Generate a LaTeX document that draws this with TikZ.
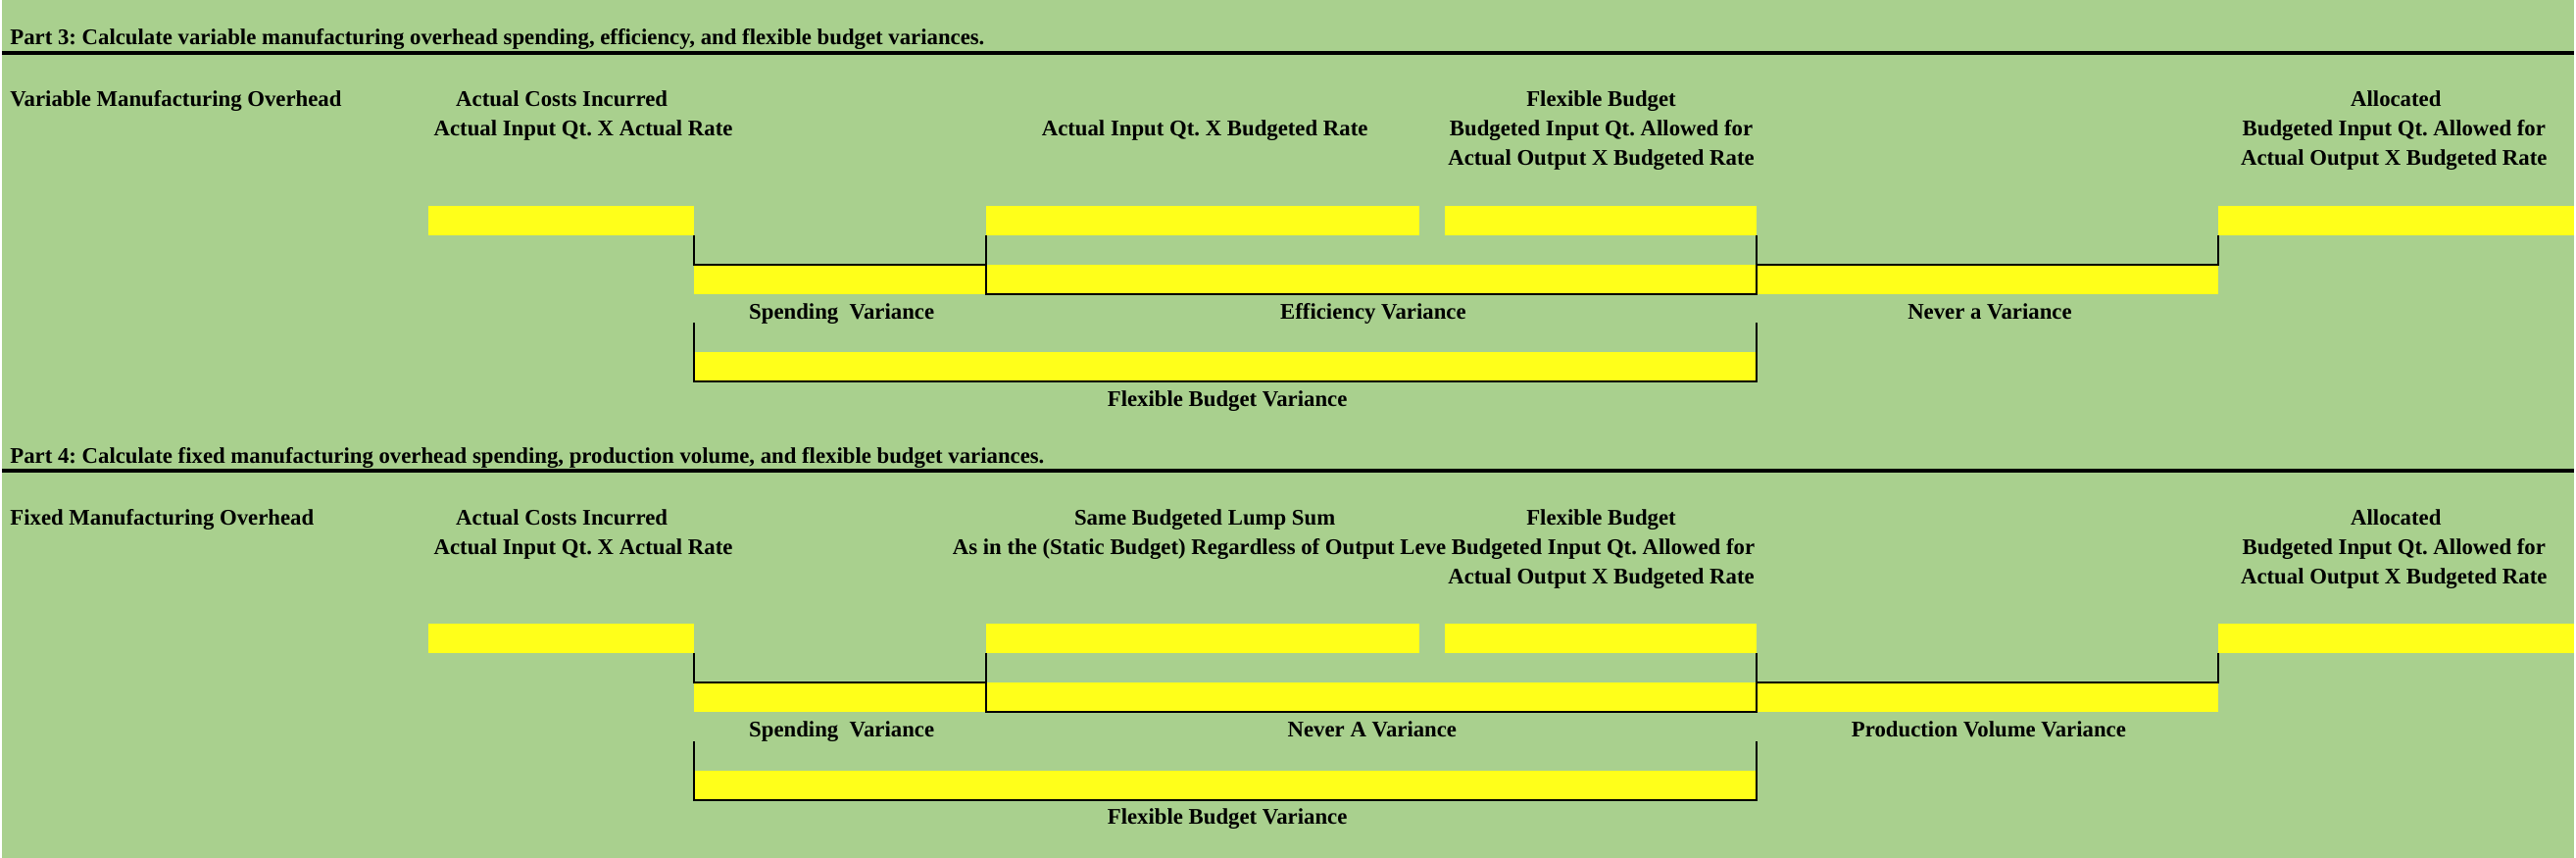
\documentclass[tikz,border=0pt]{standalone}
\usepackage{fontspec}
\setmainfont{Liberation Serif}
\frenchspacing
\usetikzlibrary{positioning,fit,calc}
\definecolor{SheetGreen}{RGB}{169,208,142}
\definecolor{CellYellow}{RGB}{255,255,26}
\tikzset{
  cellbar/.style={fill=CellYellow,inner sep=0pt,outer sep=0pt},
  headtext/.style={font=\fontsize{11.4}{13}\selectfont\bfseries,inner sep=0pt,anchor=base},
  lefttext/.style={headtext,anchor=base west},
  bracket/.style={draw=black,line width=1pt},
  titlerule/.style={draw=black,line width=2pt}
}

\begin{document}
\begin{tikzpicture}[x=0.5pt,y=-0.5pt]
\fill[SheetGreen] (0,0) rectangle (2628,876);

% Part 3: variable overhead
\node[lefttext] (vtitle) at (8,46) {Part 3: Calculate variable manufacturing overhead spending, efficiency, and flexible budget variances.};
\draw[titlerule] (0,54) -- (2628,54);
\node[lefttext] (vname) at (8,109) {Variable Manufacturing Overhead};
\node[headtext] (vact1) at (572,109) {Actual Costs Incurred};
\node[headtext] (vact2) at (594,139) {Actual Input Qt. X Actual Rate};
\node[headtext] (vaib) at (1229,139) {Actual Input Qt. X Budgeted Rate};
\node[headtext] (vflex1) at (1634,109) {Flexible Budget};
\node[headtext] (vflex2) at (1634,139) {Budgeted Input Qt. Allowed for};
\node[headtext] (vflex3) at (1634,169) {Actual Output X Budgeted Rate};
\node[headtext] (valloc1) at (2446,109) {Allocated};
\node[headtext] (valloc2) at (2444,139) {Budgeted Input Qt. Allowed for};
\node[headtext] (valloc3) at (2444,169) {Actual Output X Budgeted Rate};

\node[cellbar, fit={(436,210) (707,240)}] (vbarA) {};
\node[cellbar, fit={(1006,210) (1448,240)}] (vbarB) {};
\node[cellbar, fit={(1474,210) (1793,240)}] (vbarC) {};
\node[cellbar, fit={(2264,210) (2628,240)}] (vbarD) {};
\node[cellbar, fit={(707,270) (1006,300)}] (vspend) {};
\node[cellbar, fit={(1006,270) (1793,300)}] (veff) {};
\node[cellbar, fit={(1793,270) (2264,300)}] (vnever) {};
\node[cellbar, fit={(707,360) (1793,390)}] (vflexvar) {};
\coordinate (vfl) at (707,330);
\coordinate (vfr) at (1793,330);

\draw[bracket] (vbarA.south east) -- (vspend.north west) -- (vspend.north east) -- (vbarB.south west);
\draw[bracket] (vbarB.south west) -- (veff.south west) -- (veff.south east) -- (vbarC.south east);
\draw[bracket] (vbarC.south east) -- (vnever.north west) -- (vnever.north east) -- (vbarD.south west);
\draw[bracket] (vfl) -- (vflexvar.south west) -- (vflexvar.south east) -- (vfr);

\node[headtext] (vspendl) at (858,326) {Spending\ \ Variance};
\node[headtext] (veffl) at (1401,326) {Efficiency Variance};
\node[headtext] (vneverl) at (2031,326) {Never a Variance};
\node[headtext] (vflexl) at (1252,415) {Flexible Budget Variance};

% Part 4: fixed overhead
\begin{scope}[shift={(0,427)}]
\node[lefttext] (ftitle) at (8,46) {Part 4: Calculate fixed manufacturing overhead spending, production volume, and flexible budget variances.};
\draw[titlerule] (0,54) -- (2628,54);
\node[lefttext] (fname) at (8,109) {Fixed Manufacturing Overhead};
\node[headtext] (fact1) at (572,109) {Actual Costs Incurred};
\node[headtext] (fact2) at (594,139) {Actual Input Qt. X Actual Rate};
\node[headtext] (flump1) at (1229,109) {Same Budgeted Lump Sum};
\node[lefttext] (flump2) at (971,139) {As in the (Static Budget) Regardless of Output Leve};
\node[headtext] (fflex1) at (1634,109) {Flexible Budget};
\node[headtext] (fflex2) at (1636,139) {Budgeted Input Qt. Allowed for};
\node[headtext] (fflex3) at (1634,169) {Actual Output X Budgeted Rate};
\node[headtext] (falloc1) at (2446,109) {Allocated};
\node[headtext] (falloc2) at (2444,139) {Budgeted Input Qt. Allowed for};
\node[headtext] (falloc3) at (2444,169) {Actual Output X Budgeted Rate};

\node[cellbar, fit={(436,210) (707,240)}] (fbarA) {};
\node[cellbar, fit={(1006,210) (1448,240)}] (fbarB) {};
\node[cellbar, fit={(1474,210) (1793,240)}] (fbarC) {};
\node[cellbar, fit={(2264,210) (2628,240)}] (fbarD) {};
\node[cellbar, fit={(707,270) (1006,300)}] (fspend) {};
\node[cellbar, fit={(1006,270) (1793,300)}] (fnever) {};
\node[cellbar, fit={(1793,270) (2264,300)}] (fvol) {};
\node[cellbar, fit={(707,360) (1793,390)}] (fflexvar) {};
\coordinate (ffl) at (707,330);
\coordinate (ffr) at (1793,330);

\draw[bracket] (fbarA.south east) -- (fspend.north west) -- (fspend.north east) -- (fbarB.south west);
\draw[bracket] (fbarB.south west) -- (fnever.south west) -- (fnever.south east) -- (fbarC.south east);
\draw[bracket] (fbarC.south east) -- (fvol.north west) -- (fvol.north east) -- (fbarD.south west);
\draw[bracket] (ffl) -- (fflexvar.south west) -- (fflexvar.south east) -- (ffr);

\node[headtext] (fspendl) at (858,326) {Spending\ \ Variance};
\node[headtext] (fneverl) at (1400,326) {Never A Variance};
\node[headtext] (fvoll) at (2030,326) {Production Volume Variance};
\node[headtext] (fflexl) at (1252,415) {Flexible Budget Variance};
\end{scope}
\end{tikzpicture}
\end{document}
